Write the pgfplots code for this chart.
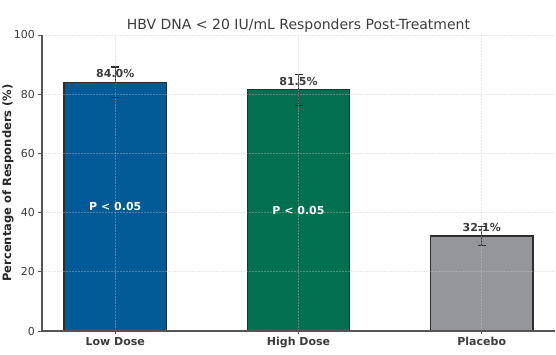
\documentclass[border=0pt]{standalone}
\usepackage{pgfplots}
\pgfplotsset{compat=1.18}
\usepackage{fontspec}
\setmainfont{DejaVu Sans}
\definecolor{cLow}{RGB}{0,90,150}
\definecolor{cHigh}{RGB}{0,112,80}
\definecolor{cPla}{RGB}{149,150,154}
\definecolor{edge}{RGB}{45,45,45}
\definecolor{spine}{RGB}{85,85,85}
\definecolor{txt}{RGB}{60,60,60}
\begin{document}
\begin{tikzpicture}
\begin{axis}[
  name=ax,
  scale only axis, width=513pt, height=296pt,
  xmin=-0.4, xmax=2.4, ymin=0, ymax=100,
  xtick={0,1,2}, xticklabels={Low Dose,High Dose,Placebo},
  ytick={0,20,40,60,80,100},
  axis x line*=bottom, axis y line*=left,
  axis line style={spine, line width=1.5pt, -},
  tick style={spine, line width=0.8pt},
  tick align=outside, major tick length=3.5pt,
  grid=major, grid style={gray!45, opacity=0.4, line width=0.6pt, dash pattern=on 2pt off 1pt},
  axis on top,
  ybar, bar width=0.56, bar shift=0pt,
  xticklabel style={font=\fontsize{11}{12}\selectfont\bfseries, text=txt, yshift=1pt},
  yticklabel style={font=\fontsize{11}{12}\selectfont, text=txt},
  /pgf/number format/assume math mode=true,
  ylabel={Percentage of Responders (\%)},
  every axis y label/.style={at={(axis description cs:0,0.5)}, xshift=-34pt, anchor=center, rotate=90,
    font=\fontsize{11.5}{13}\selectfont\bfseries, text=black!85},
  title={HBV DNA < 20 IU/mL Responders Post-Treatment},
  title style={font=\fontsize{14}{15}\selectfont, text=txt, at={(0.5,1)}, anchor=base, yshift=-1pt},
  nodes near coords,
  point meta=explicit symbolic,
  nodes near coords style={font=\fontsize{11}{12}\selectfont\bfseries, text=txt, anchor=south, inner sep=1.5pt, yshift=2.5pt},
  error bars/y dir=both, error bars/y explicit,
  error bars/error bar style={edge, line width=1.1pt},
  error bars/error mark options={rotate=90, mark size=4pt, edge, line width=1.1pt},
]
\addplot[fill=cLow, draw=edge, line width=1.1pt] coordinates {(0,84.0) +- (0,5.2) [84.0\%]};
\addplot[fill=cHigh, draw=edge, line width=1.1pt] coordinates {(1,81.5) +- (0,5.2) [81.5\%]};
\addplot[fill=cPla, draw=edge, line width=1.1pt] coordinates {(2,32.1) +- (0,3.1) [32.1\%]};
\node[font=\fontsize{11}{12}\selectfont\bfseries, text=white] at (axis cs:0,42.0) {P < 0.05};
\node[font=\fontsize{11}{12}\selectfont\bfseries, text=white] at (axis cs:1,40.75) {P < 0.05};
\end{axis}
\pgfresetboundingbox
\path ([xshift=-42pt,yshift=-24pt]ax.south west) rectangle ([xshift=1pt,yshift=35pt]ax.north east);
\end{tikzpicture}
\end{document}
